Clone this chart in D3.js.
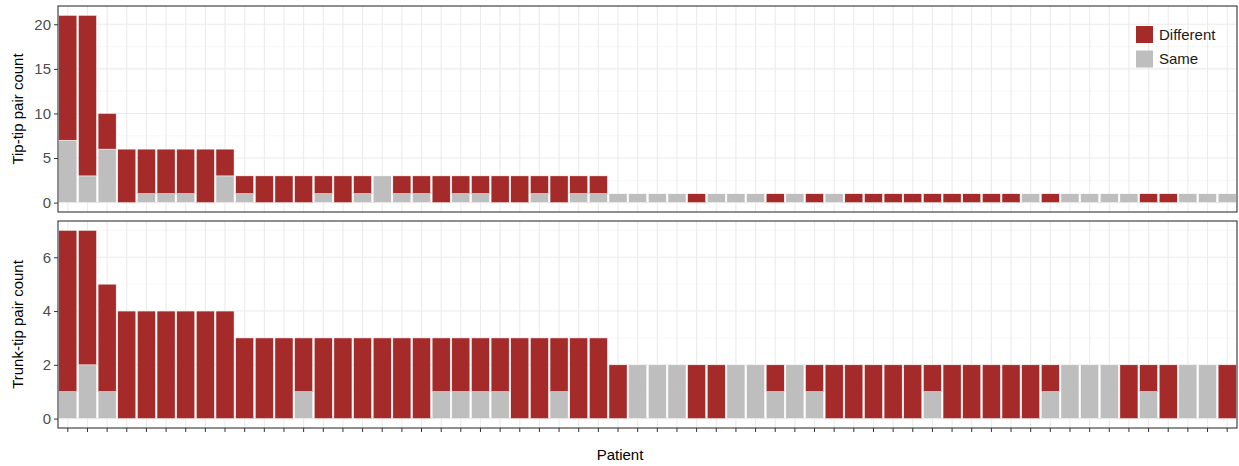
<!DOCTYPE html>
<html>
<head>
<meta charset="utf-8">
<script src="https://cdn.jsdelivr.net/npm/d3@7"></script>
<style>
  body { margin: 0; background: #fff; }
  text { font-family: "Liberation Sans", Arial, sans-serif; }
</style>
</head>
<body>
<div id="chart"></div>
<script>
// patients 1..60, ordered as in the figure
var patients = d3.range(1, 61).map(String);

// tip-tip pairs
var tipSame = [7,3,6,0,1,1,1,0,3,1, 0,0,0,1,0,1,3,1,1,0, 1,1,0,0,1,0,1,1,1,1,
               1,1,0,1,1,1,0,1,0,1, 0,0,0,0,0,0,0,0,0,1, 0,1,1,1,1,0,0,1,1,1];
var tipDiff = [14,18,4,6,5,5,5,6,3,2, 3,3,3,2,3,2,0,2,2,3, 2,2,3,3,2,3,2,2,0,0,
               0,0,1,0,0,0,1,0,1,0, 1,1,1,1,1,1,1,1,1,0, 1,0,0,0,0,1,1,0,0,0];

// trunk-tip pairs
var trunkSame = [1,2,1,0,0,0,0,0,0,0, 0,0,1,0,0,0,0,0,0,1, 1,1,1,0,0,1,0,0,0,2,
                 2,2,0,0,2,2,1,2,1,0, 0,0,0,0,1,0,0,0,0,0, 1,2,2,2,0,1,0,2,2,0];
var trunkDiff = [6,5,4,4,4,4,4,4,4,3, 3,3,2,3,3,3,3,3,3,2, 2,2,2,3,3,2,3,3,2,0,
                 0,0,2,2,0,0,1,0,1,2, 2,2,2,2,1,2,2,2,2,2, 1,0,0,0,2,1,2,0,0,2];

var groups = ["Same", "Different"];
var legendLabels = ["Different", "Same"];
var colors = { "Different": "#A52A2A", "Same": "#BEBEBE" };

var W = 1239, H = 466;
var left = 58, right = 1237;

var svg = d3.select("#chart").append("svg")
    .attr("width", W)
    .attr("height", H);

var x = d3.scaleBand()
    .domain(patients)
    .range([left, right])
    .paddingInner(0.08)
    .paddingOuter(0.04);

var panels = [
    { same: tipSame, diff: tipDiff, top: 6, bottom: 212, domain: [-1.05, 22.05],
      ticks: [0, 5, 10, 15, 20], minor: [2.5, 7.5, 12.5, 17.5], title: "Tip-tip pair count", xticks: false },
    { same: trunkSame, diff: trunkDiff, top: 221, bottom: 428, domain: [-0.35, 7.35],
      ticks: [0, 2, 4, 6], minor: [1, 3, 5, 7], title: "Trunk-tip pair count", xticks: true }
];

panels.forEach(function(p) {
    var y = d3.scaleLinear().domain(p.domain).range([p.bottom, p.top]);
    var g = svg.append("g");

    var rows = patients.map(function(d, i) {
        return { patient: d, Same: p.same[i], Different: p.diff[i] };
    });
    var stacked = d3.stack().keys(groups)(rows);

    // grid
    g.selectAll(".minor").data(p.minor).enter().append("line")
        .attr("x1", left).attr("x2", right)
        .attr("y1", function(d) { return y(d); })
        .attr("y2", function(d) { return y(d); })
        .attr("stroke", "#f2f2f2").attr("stroke-width", 0.6);
    g.selectAll(".major").data(p.ticks).enter().append("line")
        .attr("x1", left).attr("x2", right)
        .attr("y1", function(d) { return y(d); })
        .attr("y2", function(d) { return y(d); })
        .attr("stroke", "#ebebeb").attr("stroke-width", 1.1);
    g.selectAll(".vgrid").data(patients).enter().append("line")
        .attr("x1", function(d) { return x(d) + x.bandwidth() / 2; })
        .attr("x2", function(d) { return x(d) + x.bandwidth() / 2; })
        .attr("y1", p.top).attr("y2", p.bottom)
        .attr("stroke", "#ebebeb").attr("stroke-width", 1.1);

    // bars
    g.selectAll(".layer").data(stacked).enter().append("g")
        .attr("fill", function(d) { return colors[d.key]; })
        .selectAll("rect")
        .data(function(d) { return d; })
        .enter().append("rect")
        .filter(function(d) { return d[1] > d[0]; })
        .attr("x", function(d) { return x(d.data.patient); })
        .attr("width", x.bandwidth())
        .attr("y", function(d) { return y(d[1]); })
        .attr("height", function(d) { return y(d[0]) - y(d[1]); })
        .attr("stroke", "#ffffff")
        .attr("stroke-width", 0.5);

    // border
    g.append("rect")
        .attr("x", left).attr("y", p.top)
        .attr("width", right - left).attr("height", p.bottom - p.top)
        .attr("fill", "none").attr("stroke", "#333333").attr("stroke-width", 1.1);

    // y axis
    var yAxis = g.append("g")
        .attr("transform", "translate(" + left + ",0)")
        .call(d3.axisLeft(y).tickValues(p.ticks).tickSize(4).tickPadding(3));
    yAxis.select(".domain").remove();
    yAxis.selectAll("line").attr("stroke", "#333333");
    yAxis.selectAll("text").attr("fill", "#4d4d4d").style("font-size", "15px");

    g.append("text")
        .attr("transform", "translate(23," + ((p.top + p.bottom) / 2) + ") rotate(-90)")
        .attr("text-anchor", "middle")
        .style("font-size", "15px")
        .attr("fill", "#000")
        .text(p.title);

    if (p.xticks) {
        var xAxis = g.append("g")
            .attr("transform", "translate(0," + p.bottom + ")")
            .call(d3.axisBottom(x).tickSize(4).tickFormat(""));
        xAxis.select(".domain").remove();
        xAxis.selectAll("line").attr("stroke", "#333333");
    }
});

// x axis title
svg.append("text")
    .attr("x", 620)
    .attr("y", 460)
    .attr("text-anchor", "middle")
    .style("font-size", "15px")
    .text("Patient");

// legend
var legend = svg.append("g").attr("transform", "translate(1136,26)");
legendLabels.forEach(function(k, i) {
    legend.append("rect")
        .attr("x", 0).attr("y", i * 24.5)
        .attr("width", 17).attr("height", 17)
        .attr("fill", colors[k]);
    legend.append("text")
        .attr("x", 23).attr("y", i * 24.5 + 8.5)
        .attr("dy", "0.35em")
        .style("font-size", "15px")
        .attr("fill", "#1a1a1a")
        .text(k);
});
</script>
</body>
</html>
